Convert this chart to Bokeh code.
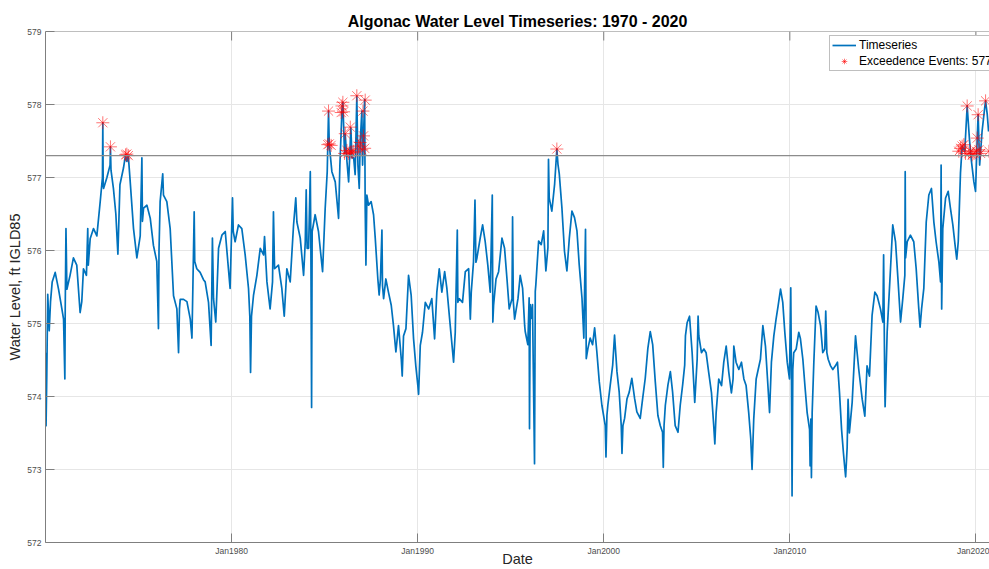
from bokeh.plotting import figure
from bokeh.models import Range1d, FixedTicker, Span, Legend, LegendItem
from bokeh.embed import file_html
from bokeh.resources import INLINE

# ---- data (decimal year, ft IGLD85) ----
years = [
    1970.00, 1970.03, 1970.07, 1970.12, 1970.20, 1970.27, 1970.36, 1970.52, 1970.70, 1970.88,
    1970.97, 1971.04, 1971.06, 1971.10, 1971.15, 1971.32, 1971.50, 1971.68, 1971.86, 1971.95,
    1972.04, 1972.20, 1972.27, 1972.30, 1972.40, 1972.58, 1972.76, 1972.94, 1973.06, 1973.08,
    1973.10, 1973.12, 1973.30, 1973.47, 1973.49, 1973.52, 1973.65, 1973.78, 1973.89, 1974.00,
    1974.19, 1974.30, 1974.37, 1974.45, 1974.55, 1974.73, 1974.91, 1975.09, 1975.18, 1975.21,
    1975.27, 1975.45, 1975.63, 1975.80, 1975.98, 1976.07, 1976.10, 1976.16, 1976.30, 1976.34,
    1976.52, 1976.70, 1976.88, 1977.06, 1977.15, 1977.20, 1977.24, 1977.42, 1977.60, 1977.78,
    1977.87, 1977.92, 1977.99, 1978.02, 1978.13, 1978.31, 1978.49,
    1978.58, 1978.76, 1978.90, 1978.97, 1979.03, 1979.15, 1979.30, 1979.48, 1979.66, 1979.83,
    1979.92, 1980.05, 1980.09, 1980.19, 1980.37, 1980.55, 1980.73, 1980.91, 1980.98, 1981.02,
    1981.07, 1981.18, 1981.36, 1981.54, 1981.72, 1981.77, 1981.90, 1982.07, 1982.20, 1982.25,
    1982.31, 1982.52, 1982.70, 1982.83, 1982.97, 1983.15, 1983.33, 1983.45, 1983.51, 1983.69,
    1983.87, 1983.96, 1984.01, 1984.06, 1984.14, 1984.23, 1984.26, 1984.30, 1984.33, 1984.49,
    1984.67, 1984.89, 1985.03, 1985.14, 1985.21, 1985.25, 1985.39, 1985.57, 1985.75, 1985.82,
    1985.93, 1985.98, 1986.07, 1986.11, 1986.20, 1986.29, 1986.41, 1986.47, 1986.56, 1986.64,
    1986.73, 1986.79, 1986.86, 1986.91, 1987.00, 1987.04, 1987.09, 1987.15, 1987.18,
    1987.22, 1987.27, 1987.36, 1987.50, 1987.63, 1987.72, 1987.86, 1987.93, 1988.00, 1988.08,
    1988.11, 1988.17, 1988.29, 1988.43, 1988.58, 1988.70, 1988.83, 1988.97, 1989.12, 1989.17,
    1989.24, 1989.37, 1989.51, 1989.65, 1989.78, 1989.90, 1990.01, 1990.05, 1990.14, 1990.26,
    1990.41, 1990.59, 1990.76, 1990.91, 1991.03, 1991.16, 1991.30, 1991.45, 1991.57, 1991.75,
    1991.88, 1991.93, 1992.02, 1992.13, 1992.16, 1992.23, 1992.41, 1992.56, 1992.74, 1992.83,
    1992.88, 1993.00, 1993.08, 1993.13, 1993.18, 1993.36, 1993.49, 1993.63, 1993.77, 1993.90,
    1994.01, 1994.04, 1994.08, 1994.21, 1994.35, 1994.53, 1994.67, 1994.80, 1994.92, 1995.07,
    1995.10, 1995.14, 1995.21, 1995.39, 1995.51, 1995.64, 1995.75,
    1995.78, 1995.92, 1995.99, 1996.01, 1996.05, 1996.10, 1996.17, 1996.28, 1996.32, 1996.35,
    1996.50, 1996.64, 1996.77, 1996.89, 1997.00, 1997.03, 1997.07, 1997.21, 1997.36, 1997.48,
    1997.54, 1997.61, 1997.75, 1997.89, 1998.02, 1998.15, 1998.29, 1998.43, 1998.56, 1998.68,
    1998.83, 1998.93, 1999.02, 1999.06, 1999.15, 1999.27, 1999.40, 1999.51, 1999.63, 1999.76,
    1999.90, 1999.99, 2000.08, 2000.12, 2000.17, 2000.22, 2000.35, 2000.48, 2000.58, 2000.71,
    2000.83, 2000.94, 2000.98, 2001.03, 2001.12, 2001.25, 2001.37, 2001.51, 2001.66, 2001.78,
    2001.96, 2002.09, 2002.23, 2002.37, 2002.50, 2002.63, 2002.77, 2002.91, 2003.04, 2003.16,
    2003.20, 2003.24, 2003.31, 2003.45, 2003.58, 2003.70, 2003.84, 2003.99, 2004.11, 2004.24,
    2004.35,
    2004.39, 2004.48, 2004.61, 2004.75, 2004.89, 2005.02, 2005.07, 2005.11, 2005.25, 2005.38,
    2005.50, 2005.64, 2005.79, 2005.91, 2005.97, 2006.04, 2006.18, 2006.33, 2006.45, 2006.58,
    2006.72, 2006.86, 2006.95, 2006.99, 2007.11, 2007.26, 2007.40, 2007.53, 2007.65, 2007.79,
    2007.90, 2007.97, 2008.06, 2008.19, 2008.30, 2008.42, 2008.55, 2008.69, 2008.80, 2008.91,
    2009.01, 2009.14, 2009.26, 2009.37, 2009.50, 2009.62, 2009.73, 2009.86, 2009.98, 2010.05,
    2010.09, 2010.12, 2010.16, 2010.21, 2010.34, 2010.48, 2010.57, 2010.70, 2010.81, 2010.93,
    2011.06, 2011.09, 2011.13, 2011.16, 2011.20, 2011.29, 2011.41, 2011.52, 2011.65, 2011.77,
    2011.88, 2011.93, 2011.99, 2012.06, 2012.19, 2012.31, 2012.45, 2012.56, 2012.67, 2012.78,
    2012.88, 2012.96,
    2013.00, 2013.08, 2013.13, 2013.20, 2013.35, 2013.53, 2013.70, 2013.89, 2014.03, 2014.15,
    2014.28, 2014.42, 2014.57, 2014.69, 2014.87, 2015.00, 2015.04, 2015.10, 2015.12, 2015.23,
    2015.41, 2015.53, 2015.68, 2015.82, 2015.95, 2016.07, 2016.18, 2016.20, 2016.22, 2016.31,
    2016.48, 2016.66, 2016.79, 2016.93, 2017.00, 2017.08, 2017.20, 2017.33, 2017.47, 2017.61,
    2017.74, 2017.86, 2018.01, 2018.10, 2018.13, 2018.16, 2018.22, 2018.37, 2018.51, 2018.63,
    2018.76, 2018.90, 2018.97, 2019.05, 2019.17, 2019.26, 2019.40, 2019.53, 2019.66, 2019.76,
    2019.89, 2019.98, 2020.07, 2020.12, 2020.20, 2020.33, 2020.47, 2020.52, 2020.61, 2020.68,
]

level = [
    574.60, 573.60, 574.30, 575.40, 574.90, 575.30, 575.57, 575.70, 575.47, 575.20,
    575.06, 574.24, 575.20, 576.30, 575.47, 575.66, 575.90, 575.80, 575.15, 575.30,
    575.75, 575.66, 576.30, 575.80, 576.16, 576.30, 576.20, 576.67, 577.00, 577.75,
    576.90, 576.85, 577.00, 577.17, 577.42, 577.10, 576.85, 576.50, 575.95, 576.90,
    577.13, 577.31, 577.22, 577.30, 576.95, 576.30, 575.90, 576.20, 577.27, 576.40,
    576.58, 576.62, 576.44, 576.07, 575.85, 574.93, 576.00, 576.67, 577.05, 576.76,
    576.67, 576.30, 575.38, 575.20, 574.60, 575.20, 575.33, 575.33, 575.30, 575.06,
    574.80, 575.50, 576.53, 575.85, 575.75, 575.70, 575.60,
    575.57, 575.29, 574.70, 576.17, 575.34, 575.02, 576.03, 576.21, 576.26, 575.75,
    575.48, 576.72, 576.26, 576.12, 576.35, 576.30, 575.94, 575.48, 575.10, 574.33,
    575.10, 575.39, 575.66, 576.03, 575.94, 576.19, 575.57, 575.20, 575.57, 576.53,
    575.75, 575.80, 575.48, 575.10, 575.75, 575.57, 576.35, 576.72, 576.39, 576.17,
    575.66, 576.12, 576.83, 576.03, 576.03, 577.08, 576.12, 573.85, 576.26, 576.49,
    576.26, 575.71, 576.58, 577.08, 577.91, 577.45, 577.08, 576.94, 576.44, 577.17,
    577.91, 578.03, 577.33, 577.59, 577.22, 576.94, 577.68, 577.27, 577.27, 577.04,
    578.11, 577.17, 576.85, 577.47, 577.91, 577.17, 577.57, 578.07, 576.58,
    575.80, 576.76, 576.62, 576.67, 576.49, 576.17, 575.61, 575.39, 575.61, 576.28,
    575.52, 575.34, 575.61, 575.43, 575.25, 574.97, 574.61, 574.97, 574.51, 574.28,
    574.83, 574.93, 575.66, 575.39, 574.79, 574.42, 574.15, 574.03, 574.70, 574.88,
    575.29, 575.20, 575.34, 574.79, 575.43, 575.75, 575.43, 575.71, 575.48, 574.97,
    574.61, 574.47, 574.88, 576.28, 575.29, 575.34, 575.29, 575.71, 575.75, 575.06,
    575.43, 575.84, 576.69, 575.84, 575.89, 576.17, 576.35, 576.12, 575.80, 575.43,
    576.76, 575.02, 575.25, 575.61, 575.71, 576.17, 576.03, 575.61, 575.20, 575.34,
    576.46, 575.30, 575.06, 575.34, 575.66, 575.48, 574.97,
    574.89, 574.71, 575.35, 573.56, 575.26, 575.07, 575.26, 573.08, 575.44, 575.53,
    576.13, 576.08, 576.27, 575.72, 576.04, 577.25, 576.72, 576.54, 576.91, 577.39,
    577.18, 577.05, 576.59, 575.99, 575.72, 576.17, 576.54, 576.45, 576.27, 575.81,
    575.35, 574.80, 576.29, 574.52, 574.66, 574.80, 574.71, 574.94, 574.61, 574.20,
    573.88, 573.74, 573.60, 573.17, 573.74, 573.88, 574.16, 574.43, 574.84, 574.34,
    574.06, 573.60, 573.22, 573.60, 573.70, 573.97, 574.06, 574.25, 573.97, 573.79,
    573.70, 573.97, 574.25, 574.66, 574.89, 574.71, 574.20, 573.74, 573.60, 573.51,
    573.03, 573.60, 573.88, 574.16, 574.34, 574.06, 573.60, 573.51, 573.88, 574.16,
    574.43,
    574.83, 575.01, 575.10, 574.60, 573.92, 574.51, 575.10, 574.83, 574.60, 574.65,
    574.60, 574.33, 574.05, 573.60, 573.35, 573.78, 574.24, 574.15, 574.47, 574.69,
    574.33, 574.05, 574.24, 574.69, 574.47, 574.37, 574.47, 574.24, 574.15, 573.78,
    573.42, 573.00, 573.69, 574.24, 574.37, 574.51, 574.97, 574.69, 574.24, 573.78,
    574.47, 574.83, 575.06, 575.24, 575.47, 575.29, 574.88, 574.47, 574.24, 575.49,
    574.15, 572.64, 574.37, 574.60, 574.65, 574.88, 574.79, 574.51, 574.15, 573.78,
    573.55, 573.05, 573.69, 572.89, 573.78, 574.47, 575.24, 575.15, 574.97, 574.60,
    574.65, 575.17, 574.60, 574.51, 574.42, 574.37, 574.42, 574.47, 574.05, 573.55,
    573.23, 573.00,
    572.90, 573.30, 573.96, 573.50, 573.92, 574.83, 574.38, 573.96, 573.73, 574.42,
    574.28, 575.11, 575.43, 575.38, 575.20, 575.02, 575.94, 574.19, 573.86, 574.88,
    575.75, 576.35, 576.12, 575.57, 575.02, 575.34, 575.66, 577.08, 575.90, 576.12,
    576.21, 576.12, 575.75, 575.20, 574.95, 575.20, 575.48, 576.39, 576.76, 576.85,
    576.39, 576.12, 575.84, 575.57, 577.17, 575.20, 576.30, 576.72, 576.81, 576.58,
    576.35, 576.03, 575.88, 576.12, 577.06, 577.43, 577.36, 577.98, 577.50, 577.22,
    576.94, 576.81, 577.54, 577.86, 577.17, 577.63, 577.95, 578.05, 577.86, 577.63,
]

event_years = [
    1973.08, 1973.49, 1974.30, 1974.37, 1974.45,
    1985.17, 1985.21, 1985.25, 1985.35, 1985.89, 1985.93, 1985.98, 1986.02, 1986.07, 1986.11,
    1986.20, 1986.27, 1986.38, 1986.41, 1986.47, 1986.56, 1986.73, 1986.82, 1986.91, 1987.00,
    1987.06, 1987.09, 1987.15, 1987.18,
    1997.48,
    2019.08, 2019.17, 2019.26, 2019.35, 2019.44, 2019.53, 2019.62, 2019.71, 2019.80, 2019.90,
    2020.02, 2020.07, 2020.12, 2020.16, 2020.25, 2020.52, 2020.70,
]
event_level = [
    577.75, 577.42, 577.31, 577.32, 577.30,
    577.45, 577.91, 577.46, 577.44, 577.89, 577.98, 578.03, 577.90, 577.33, 577.60,
    577.37, 577.33, 577.69, 577.35, 577.34, 577.36, 578.12, 577.43, 577.48, 577.38,
    577.91, 577.57, 577.40, 578.06,
    577.39,
    577.36, 577.40, 577.43, 577.45, 577.33, 577.98, 577.33, 577.36, 577.31, 577.33,
    577.36, 577.54, 577.86, 577.38, 577.33, 578.05, 577.36,
]

threshold = 577.3
x_ticks = [1980, 1990, 2000, 2010, 2020]
x_tick_labels = ["Jan1980", "Jan1990", "Jan2000", "Jan2010", "Jan2020"]
y_ticks = [572, 573, 574, 575, 576, 577, 578, 579]
x_start, x_end = 1970.0, 2020.73
y_start, y_end = 572, 579

FONT = "Liberation Sans"
AX = "#7f7f7f"
TICKTXT = "#4d4d4d"
LABELTXT = "#262626"

p = figure(width=989, height=569, output_backend="svg", toolbar_location=None,
           x_range=Range1d(x_start, x_end), y_range=Range1d(y_start, y_end),
           min_border_left=45, min_border_right=0, min_border_top=31, min_border_bottom=27,
           background_fill_color="white", border_fill_color="white")
p.outline_line_color = None

p.title.text = "Algonac Water Level Timeseries: 1970 - 2020"
p.title.align = "center"
p.title.text_font = FONT
p.title.text_font_size = "16px"
p.title.text_font_style = "bold"
p.title.text_color = "#000000"
p.title.standoff = 4

# axes (ticks pointing inward, MATLAB style)
xa = p.xaxis[0]
xa.ticker = FixedTicker(ticks=x_ticks)
xa.major_label_overrides = {t: l for t, l in zip(x_ticks, x_tick_labels)}
ya = p.yaxis[0]
ya.ticker = FixedTicker(ticks=y_ticks)
for ax in (xa, ya):
    ax.axis_line_color = AX
    ax.major_tick_line_color = AX
    ax.major_tick_in = 9
    ax.major_tick_out = 0
    ax.minor_tick_line_color = None
    ax.major_label_text_font = FONT
    ax.major_label_text_font_size = "8.5px"
    ax.major_label_text_color = TICKTXT
    ax.axis_label_text_font = FONT
    ax.axis_label_text_font_size = "14.5px"
    ax.axis_label_text_font_style = "normal"
    ax.axis_label_text_color = LABELTXT
xa.axis_label = "Date"
xa.major_label_standoff = 3
xa.axis_label_standoff = -8
ya.axis_label = "Water Level, ft IGLD85"
ya.major_label_standoff = 4
ya.axis_label_standoff = 1

# top border with inward ticks
p.add_layout(Span(location=y_end, dimension="width", line_color=AX, line_width=1))
tick_len = 9 * (y_end - y_start) / 511.0
p.segment(x0=x_ticks, x1=x_ticks, y0=[y_end] * len(x_ticks),
          y1=[y_end - tick_len] * len(x_ticks), line_color=AX, line_width=1)

p.xgrid.ticker = FixedTicker(ticks=x_ticks)
p.ygrid.ticker = FixedTicker(ticks=y_ticks)
p.xgrid.grid_line_color = "#e6e6e6"
p.ygrid.grid_line_color = "#e6e6e6"

r_line = p.line(years, level, line_color="#0072BD", line_width=1.7, line_join="round")
p.add_layout(Span(location=threshold, dimension="width", line_color="#8c8c8c", line_width=1.2))
r_ev = p.scatter(event_years, event_level, marker="asterisk", size=13,
                 line_color="#ff0000", line_alpha=0.55, line_width=1)

legend = Legend(items=[LegendItem(label="Timeseries", renderers=[r_line]),
                       LegendItem(label="Exceedence Events: 577.3", renderers=[r_ev])],
                location=(784, 471), orientation="vertical",
                label_text_font=FONT, label_text_font_size="12px", label_text_color="#000000",
                glyph_width=24, glyph_height=14, label_standoff=3, label_height=14,
                spacing=2, padding=2, margin=0,
                border_line_color="#7f7f7f", border_line_width=1,
                background_fill_color="white", background_fill_alpha=1.0)
p.add_layout(legend)

open("out.html", "w").write(file_html(p, INLINE))
